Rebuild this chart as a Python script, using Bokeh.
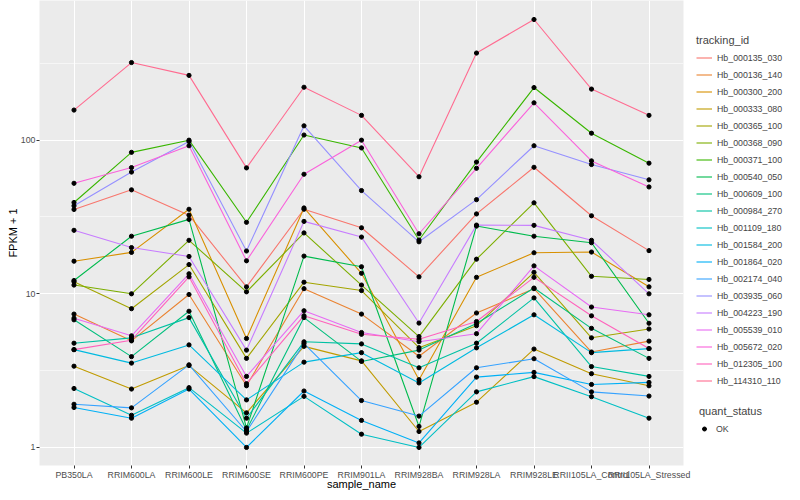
from bokeh.plotting import figure
from bokeh.layouts import row
from bokeh.models import (FactorRange, Range1d, ColumnDataSource, Legend, LegendItem,
                          FixedTicker, BasicTickFormatter)
from bokeh.embed import file_html
from bokeh.resources import INLINE

samples = ["PB350LA", "RRIM600LA", "RRIM600LE", "RRIM600SE", "RRIM600PE", "RRIM901LA",
           "RRIM928BA", "RRIM928LA", "RRIM928LE", "RRII105LA_Control", "RRII105LA_Stressed"]

tracking_ids = ["Hb_000135_030", "Hb_000136_140", "Hb_000300_200", "Hb_000333_080",
                "Hb_000365_100", "Hb_000368_090", "Hb_000371_100", "Hb_000540_050",
                "Hb_000609_100", "Hb_000984_270", "Hb_001109_180", "Hb_001584_200",
                "Hb_001864_020", "Hb_002174_040", "Hb_003935_060", "Hb_004223_190",
                "Hb_005539_010", "Hb_005672_020", "Hb_012305_100", "Hb_114310_110"]

colors = ["#F8766D", "#EA8331", "#D89000", "#C09B00", "#A3A500", "#7CAE00", "#39B600",
          "#00BB4E", "#00BF7D", "#00C1A3", "#00BFC4", "#00BAE0", "#00B0F6", "#35A2FF",
          "#9590FF", "#C77CFF", "#E76BF3", "#FA62DB", "#FF62BC", "#FF6C91"]

# FPKM + 1 per sample (same order as samples)
hb_000135_030 = [35.4, 47.5, 32.5, 11.1, 35.5, 26.9, 12.9, 33.1, 66.6, 32.2, 19.1]
hb_000136_140 = [7.38, 4.94, 9.9, 2.52, 10.8, 7.38, 3.92, 7.5, 10.8, 4.18, 4.92]
hb_000300_200 = [16.3, 18.6, 35.5, 5.12, 36.2, 13.6, 2.76, 12.8, 18.5, 18.7, 11.1]
hb_000333_080 = [3.38, 2.4, 3.41, 1.68, 4.55, 3.66, 1.27, 1.97, 4.37, 3.02, 2.52]
hb_000365_100 = [12.0, 8.0, 15.5, 3.8, 11.9, 10.5, 4.46, 6.2, 13.8, 5.17, 5.9]
hb_000368_090 = [11.4, 10.0, 22.3, 10.3, 24.9, 11.4, 5.27, 16.8, 39.1, 13.0, 12.4]
hb_000371_100 = [39.3, 83.3, 100.0, 29.2, 108.0, 89.0, 22.4, 72.0, 220.0, 111.0, 70.8]
hb_000540_050 = [12.2, 23.7, 30.5, 1.34, 17.6, 15.0, 1.37, 27.6, 23.7, 21.5, 6.43]
hb_000609_100 = [6.77, 3.9, 7.7, 1.30, 7.0, 3.63, 4.3, 6.4, 10.9, 5.96, 3.8]
hb_000984_270 = [4.77, 5.17, 7.0, 1.55, 4.87, 4.72, 3.3, 4.77, 9.4, 3.36, 2.9]
hb_001109_180 = [2.42, 1.62, 2.45, 1.24, 2.15, 1.22, 1.0, 2.3, 2.89, 2.14, 1.55]
hb_001584_200 = [4.33, 3.54, 4.65, 2.04, 3.59, 4.14, 2.63, 4.45, 7.3, 4.14, 4.4]
hb_001864_020 = [1.82, 1.55, 2.4, 1.0, 2.33, 1.5, 1.07, 2.87, 3.08, 2.57, 2.65]
hb_002174_040 = [1.91, 1.81, 3.45, 1.27, 4.74, 2.02, 1.6, 3.3, 3.78, 2.3, 2.16]
hb_003935_060 = [37.4, 62.0, 98.0, 19.0, 124.0, 47.0, 21.8, 41.0, 92.0, 69.4, 55.2]
hb_004223_190 = [25.9, 20.0, 17.5, 4.3, 29.6, 23.4, 6.45, 28.0, 27.9, 22.3, 10.0]
hb_005539_010 = [6.94, 5.33, 13.5, 2.9, 7.76, 5.6, 4.88, 5.5, 15.2, 8.2, 7.3]
hb_005672_020 = [52.4, 66.3, 92.0, 16.4, 60.0, 100.0, 24.6, 65.6, 175.0, 73.3, 49.6]
hb_012305_100 = [4.33, 4.99, 12.9, 2.6, 7.2, 5.45, 5.06, 6.6, 12.8, 7.19, 4.4]
hb_114310_110 = [157.0, 320.0, 264.0, 66.0, 221.0, 145.0, 57.8, 369.0, 610.0, 215.0, 145.0]

series = [hb_000135_030, hb_000136_140, hb_000300_200, hb_000333_080, hb_000365_100,
          hb_000368_090, hb_000371_100, hb_000540_050, hb_000609_100, hb_000984_270,
          hb_001109_180, hb_001584_200, hb_001864_020, hb_002174_040, hb_003935_060,
          hb_004223_190, hb_005539_010, hb_005672_020, hb_012305_100, hb_114310_110]

quant_status = ["OK"]

FONT = "Liberation Sans"
H = 492

p = figure(width=691, height=H,
           x_range=FactorRange(factors=samples, range_padding=0.1, range_padding_units="absolute"),
           y_axis_type="log", y_range=Range1d(0.763, 811),
           output_backend="svg", toolbar_location=None,
           min_border_left=39, min_border_right=8, min_border_top=0, min_border_bottom=20)
p.background_fill_color = "#EBEBEB"
p.border_fill_color = "white"
p.outline_line_color = None

p.xgrid.grid_line_color = "white"
p.xgrid.grid_line_width = 1.1
p.ygrid.grid_line_color = "white"
p.ygrid.grid_line_width = 1.1
p.ygrid.minor_grid_line_color = "white"
p.ygrid.minor_grid_line_width = 0.55

p.yaxis.ticker = FixedTicker(ticks=[1, 10, 100], minor_ticks=[0.3162, 3.162, 31.62, 316.2])
p.yaxis.formatter = BasicTickFormatter()

for ax in (p.xaxis[0], p.yaxis[0]):
    ax.axis_line_color = None
    ax.major_tick_line_color = "#333333"
    ax.major_tick_out = 3
    ax.major_tick_in = 0
    ax.minor_tick_out = 0
    ax.minor_tick_in = 0
    ax.major_label_text_font = FONT
    ax.major_label_text_font_size = "8.8px"
    ax.major_label_text_color = "#4D4D4D"
    ax.major_label_standoff = 1
    ax.axis_label_text_font = FONT
    ax.axis_label_text_font_size = "11px"
    ax.axis_label_text_font_style = "normal"
    ax.axis_label_text_color = "black"

p.xaxis.axis_label_standoff = -5
p.yaxis.axis_label_standoff = -1
p.xaxis.axis_label = "sample_name"
p.yaxis.axis_label = "FPKM + 1"

xs_all, ys_all = [], []
for tid, col, vals in zip(tracking_ids, colors, series):
    src = ColumnDataSource(dict(x=samples, y=vals))
    p.line("x", "y", source=src, line_color=col, line_width=1.1)
    xs_all.extend(samples)
    ys_all.extend(vals)

p.scatter(xs_all, ys_all, size=4.2, color="black")

# legend panel: swatch-only renderers (a single NaN row, nothing is drawn in the panel)
q = figure(width=100, height=H, output_backend="svg", toolbar_location=None,
           x_axis_location=None, y_axis_location=None,
           x_range=Range1d(0, 1), y_range=Range1d(0, 1),
           min_border=0)
q.outline_line_color = None
q.grid.visible = False
q.background_fill_color = "white"
q.border_fill_color = "white"

nan = float("nan")
items = []
for tid, col in zip(tracking_ids, colors):
    r = q.line(x=[nan], y=[nan], line_color=col, line_width=1.1)
    items.append(LegendItem(label=tid, renderers=[r]))
ok_r = q.scatter(x=[nan], y=[nan], size=4.2, color="black")

common = dict(title_text_font=FONT, title_text_font_size="11px", title_text_font_style="normal",
              title_standoff=3, label_text_font=FONT, label_text_font_size="8.8px",
              glyph_height=17, label_height=17,
              spacing=0, padding=0, margin=0,
              border_line_color=None, background_fill_alpha=0)

leg1 = Legend(items=items, location=(5, 76), title="tracking_id",
              glyph_width=16, label_standoff=5, **common)
leg2 = Legend(items=[LegendItem(label=quant_status[0], renderers=[ok_r])], location=(8, 28),
              title="quant_status", glyph_width=10, label_standoff=7, **common)
q.add_layout(leg1)
q.add_layout(leg2)

layout = row(p, q, spacing=0)
open("out.html", "w").write(file_html(layout, INLINE))
